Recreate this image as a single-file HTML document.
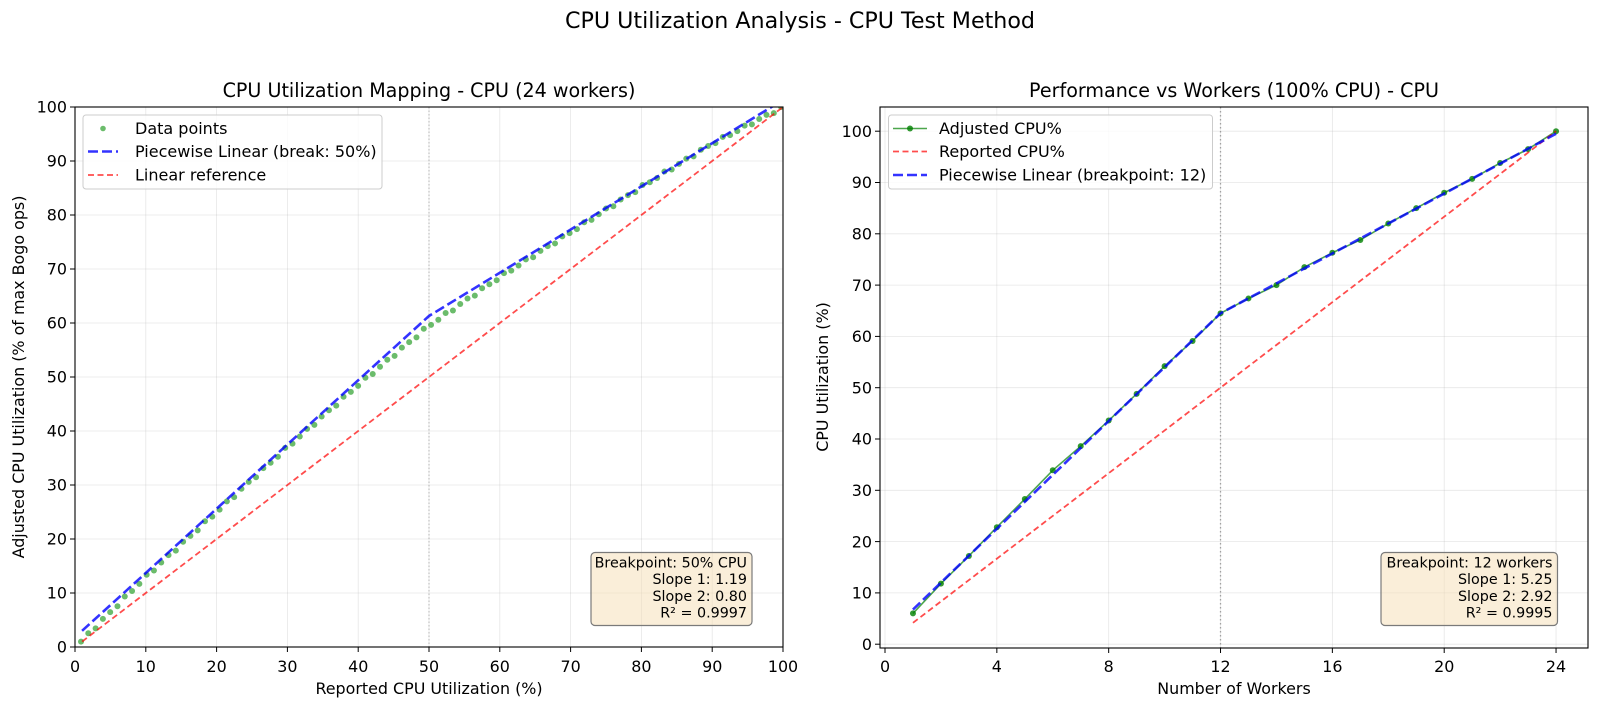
<!DOCTYPE html>
<html><head><meta charset="utf-8"><style>
html,body{margin:0;padding:0;background:#fff;}
svg{display:block;font-family:"DejaVu Sans","Liberation Sans",sans-serif;}
</style></head><body>
<svg id="s" width="1600" height="708" viewBox="0 0 1600 708" xmlns="http://www.w3.org/2000/svg">
<rect width="1600" height="708" fill="#fff"/>
<text x="800" y="28" font-size="22.2" text-anchor="middle" fill="#000">CPU Utilization Analysis - CPU Test Method</text>
<text x="429" y="97" font-size="19.1" text-anchor="middle">CPU Utilization Mapping - CPU (24 workers)</text>
<text x="1234" y="97" font-size="19.1" text-anchor="middle">Performance vs Workers (100% CPU) - CPU</text>
<g id="L"></g>
<g id="R"></g>
<g font-size="15.9" text-anchor="middle">
<text x="75" y="672">0</text><text x="145.8" y="672">10</text><text x="216.6" y="672">20</text><text x="287.4" y="672">30</text><text x="358.2" y="672">40</text><text x="429" y="672">50</text><text x="499.8" y="672">60</text><text x="570.6" y="672">70</text><text x="641.4" y="672">80</text><text x="712.2" y="672">90</text><text x="783" y="672">100</text>
</g>
<g font-size="15.9" text-anchor="end">
<text x="67" y="652.7">0</text><text x="67" y="598.7">10</text><text x="67" y="544.7">20</text><text x="67" y="490.7">30</text><text x="67" y="436.7">40</text><text x="67" y="382.7">50</text><text x="67" y="328.7">60</text><text x="67" y="274.7">70</text><text x="67" y="220.7">80</text><text x="67" y="166.7">90</text><text x="67" y="112.7">100</text>
</g>
<text x="429" y="694" font-size="15.9" text-anchor="middle">Reported CPU Utilization (%)</text>
<text transform="translate(24,377) rotate(-90)" font-size="15.9" text-anchor="middle">Adjusted CPU Utilization (% of max Bogo ops)</text>
<g font-size="15.9" text-anchor="middle">
<text x="885" y="672">0</text><text x="996.8" y="672">4</text><text x="1108.7" y="672">8</text><text x="1220.5" y="672">12</text><text x="1332.4" y="672">16</text><text x="1444.2" y="672">20</text><text x="1556" y="672">24</text>
</g>
<g font-size="15.9" text-anchor="end">
<text x="872" y="649.9">0</text><text x="872" y="598.6">10</text><text x="872" y="547.3">20</text><text x="872" y="496">30</text><text x="872" y="444.7">40</text><text x="872" y="393.4">50</text><text x="872" y="342.1">60</text><text x="872" y="290.8">70</text><text x="872" y="239.5">80</text><text x="872" y="188.2">90</text><text x="872" y="136.9">100</text>
</g>
<text x="1234" y="694" font-size="15.9" text-anchor="middle">Number of Workers</text>
<text transform="translate(828,377) rotate(-90)" font-size="15.9" text-anchor="middle">CPU Utilization (%)</text>
<rect x="83" y="115" width="299" height="74" rx="3" fill="#fff" fill-opacity="0.8" stroke="#ccc" stroke-width="1"/>
<circle cx="103" cy="128.5" r="2.8" fill="#2ca02c" fill-opacity="0.7"/>
<line x1="88" y1="151.5" x2="118" y2="151.5" stroke="#0000ff" stroke-opacity="0.8" stroke-width="2.6" stroke-dasharray="10,4"/>
<line x1="88" y1="175" x2="118" y2="175" stroke="#ff0000" stroke-opacity="0.7" stroke-width="1.8" stroke-dasharray="6,3.5"/>
<g font-size="16"><text x="135" y="134">Data points</text><text x="135" y="157">Piecewise Linear (break: 50%)</text><text x="135" y="180.5">Linear reference</text></g>
<rect x="888.5" y="115" width="324" height="74" rx="3" fill="#fff" fill-opacity="0.8" stroke="#ccc" stroke-width="1"/>
<line x1="893" y1="128.5" x2="927" y2="128.5" stroke="#008000" stroke-opacity="0.7" stroke-width="1.6"/>
<circle cx="910" cy="128.5" r="3" fill="#008000" fill-opacity="0.8"/>
<line x1="893" y1="151.5" x2="927" y2="151.5" stroke="#ff0000" stroke-opacity="0.7" stroke-width="1.8" stroke-dasharray="6,3.5"/>
<line x1="893" y1="175" x2="927" y2="175" stroke="#0000ff" stroke-opacity="0.8" stroke-width="2.6" stroke-dasharray="10,4"/>
<g font-size="16"><text x="939" y="134">Adjusted CPU%</text><text x="939" y="157">Reported CPU%</text><text x="939" y="180.5">Piecewise Linear (breakpoint: 12)</text></g>
<rect x="591" y="552.5" width="161" height="73" rx="4" fill="#f5deb3" fill-opacity="0.5" stroke="#7a7a7a" stroke-width="1.2"/>
<g font-size="14.3" text-anchor="end"><text x="747" y="567.5">Breakpoint: 50% CPU</text><text x="747" y="584.2">Slope 1: 1.19</text><text x="747" y="600.9">Slope 2: 0.80</text><text x="747" y="617.6">R² = 0.9997</text></g>
<rect x="1381" y="552.5" width="176.5" height="73" rx="4" fill="#f5deb3" fill-opacity="0.5" stroke="#7a7a7a" stroke-width="1.2"/>
<g font-size="14.3" text-anchor="end"><text x="1552.5" y="567.5">Breakpoint: 12 workers</text><text x="1552.5" y="584.2">Slope 1: 5.25</text><text x="1552.5" y="600.9">Slope 2: 2.92</text><text x="1552.5" y="617.6">R² = 0.9995</text></g>
</svg>
<script>
(function(){
var NS="http://www.w3.org/2000/svg";
function el(p,t,a){var e=document.createElementNS(NS,t);for(var k in a)e.setAttribute(k,a[k]);p.appendChild(e);return e;}
var L=document.getElementById('L'),R=document.getElementById('R');
function X(v){return 75+7.08*v;} function Y(v){return 647-5.4*v;}
for(var v=10;v<100;v+=10){el(L,'line',{x1:X(v),y1:107,x2:X(v),y2:647,stroke:'#b0b0b0','stroke-opacity':0.3,'stroke-width':0.8});el(L,'line',{x1:75,y1:Y(v),x2:783,y2:Y(v),stroke:'#b0b0b0','stroke-opacity':0.3,'stroke-width':0.8});}
el(L,'line',{x1:X(50),y1:107,x2:X(50),y2:647,stroke:'#808080','stroke-opacity':0.5,'stroke-width':1,'stroke-dasharray':'1.5,2'});
var kx=[1,10,20,30,40,50,60,70,80,90,100],ky=[1.2,13,25,37,48.5,59.5,68.5,76.8,85.2,93.2,100];
function f(x){for(var i=0;i<kx.length-1;i++){if(x<=kx[i+1]){var t=(x-kx[i])/(kx[i+1]-kx[i]);return ky[i]+t*(ky[i+1]-ky[i]);}}return 100;}
var clip=el(L,'clipPath',{id:'cl'});el(clip,'rect',{x:75,y:107,width:708,height:540});
var gd=el(L,'g',{'clip-path':'url(#cl)'});
for(var i=0;i<97;i++){var x=0.85+i*1.03;if(x>100)x=100;var n=0.25*Math.sin(i*2.3);el(gd,'circle',{cx:X(x),cy:Y(f(x)+n),r:3,fill:'#2ca02c','fill-opacity':0.7});}
el(gd,'path',{d:'M'+X(1)+','+Y(3)+' L'+X(50)+','+Y(61.3)+' L'+X(100)+','+Y(101.3),fill:'none',stroke:'#0000ff','stroke-opacity':0.8,'stroke-width':2.6,'stroke-dasharray':'10,4'});
el(gd,'line',{x1:X(1),y1:Y(1),x2:X(100),y2:Y(100),stroke:'#ff0000','stroke-opacity':0.7,'stroke-width':1.8,'stroke-dasharray':'6,3.5'});
el(L,'rect',{x:75,y:107,width:708,height:540,fill:'none',stroke:'#000','stroke-width':1.1});
for(var v=0;v<=100;v+=10){el(L,'line',{x1:X(v),y1:647,x2:X(v),y2:652,stroke:'#000','stroke-width':1});el(L,'line',{x1:70,y1:Y(v),x2:75,y2:Y(v),stroke:'#000','stroke-width':1});}
function XR(w){return 885+27.96*w;} function YR(v){return 644.2-5.13*v;}
for(var w=0;w<=24;w+=4){el(R,'line',{x1:XR(w),y1:107,x2:XR(w),y2:648,stroke:'#b0b0b0','stroke-opacity':0.3,'stroke-width':0.8});}
for(var v=0;v<=100;v+=10){el(R,'line',{x1:880,y1:YR(v),x2:1588,y2:YR(v),stroke:'#b0b0b0','stroke-opacity':0.3,'stroke-width':0.8});}
el(R,'line',{x1:XR(12),y1:107,x2:XR(12),y2:648,stroke:'#808080','stroke-opacity':0.7,'stroke-width':1.3,'stroke-dasharray':'1.5,2.5'});
var d=[6,11.8,17.2,22.8,28.3,33.9,38.6,43.6,48.8,54.2,59.1,64.5,67.4,70,73.5,76.3,78.8,82,85,88,90.7,93.8,96.5,100];
var p='';for(var i=0;i<24;i++){p+=(i?'L':'M')+XR(i+1)+','+YR(d[i]);}
el(R,'path',{d:p,fill:'none',stroke:'#008000','stroke-opacity':0.7,'stroke-width':1.6});
for(var i=0;i<24;i++)el(R,'circle',{cx:XR(i+1),cy:YR(d[i]),r:3,fill:'#008000','fill-opacity':0.8});
el(R,'line',{x1:XR(1),y1:YR(100/24),x2:XR(24),y2:YR(100),stroke:'#ff0000','stroke-opacity':0.7,'stroke-width':1.8,'stroke-dasharray':'6,3.5'});
el(R,'path',{d:'M'+XR(1)+','+YR(6.75)+' L'+XR(12)+','+YR(64.5)+' L'+XR(24)+','+YR(99.5),fill:'none',stroke:'#0000ff','stroke-opacity':0.8,'stroke-width':2.6,'stroke-dasharray':'10,4'});
el(R,'rect',{x:880,y:107,width:708,height:541,fill:'none',stroke:'#000','stroke-width':1.1});
for(var w=0;w<=24;w+=4)el(R,'line',{x1:XR(w),y1:648,x2:XR(w),y2:653,stroke:'#000','stroke-width':1});
for(var v=0;v<=100;v+=10)el(R,'line',{x1:875,y1:YR(v),x2:880,y2:YR(v),stroke:'#000','stroke-width':1});
})();
</script>
</body></html>
